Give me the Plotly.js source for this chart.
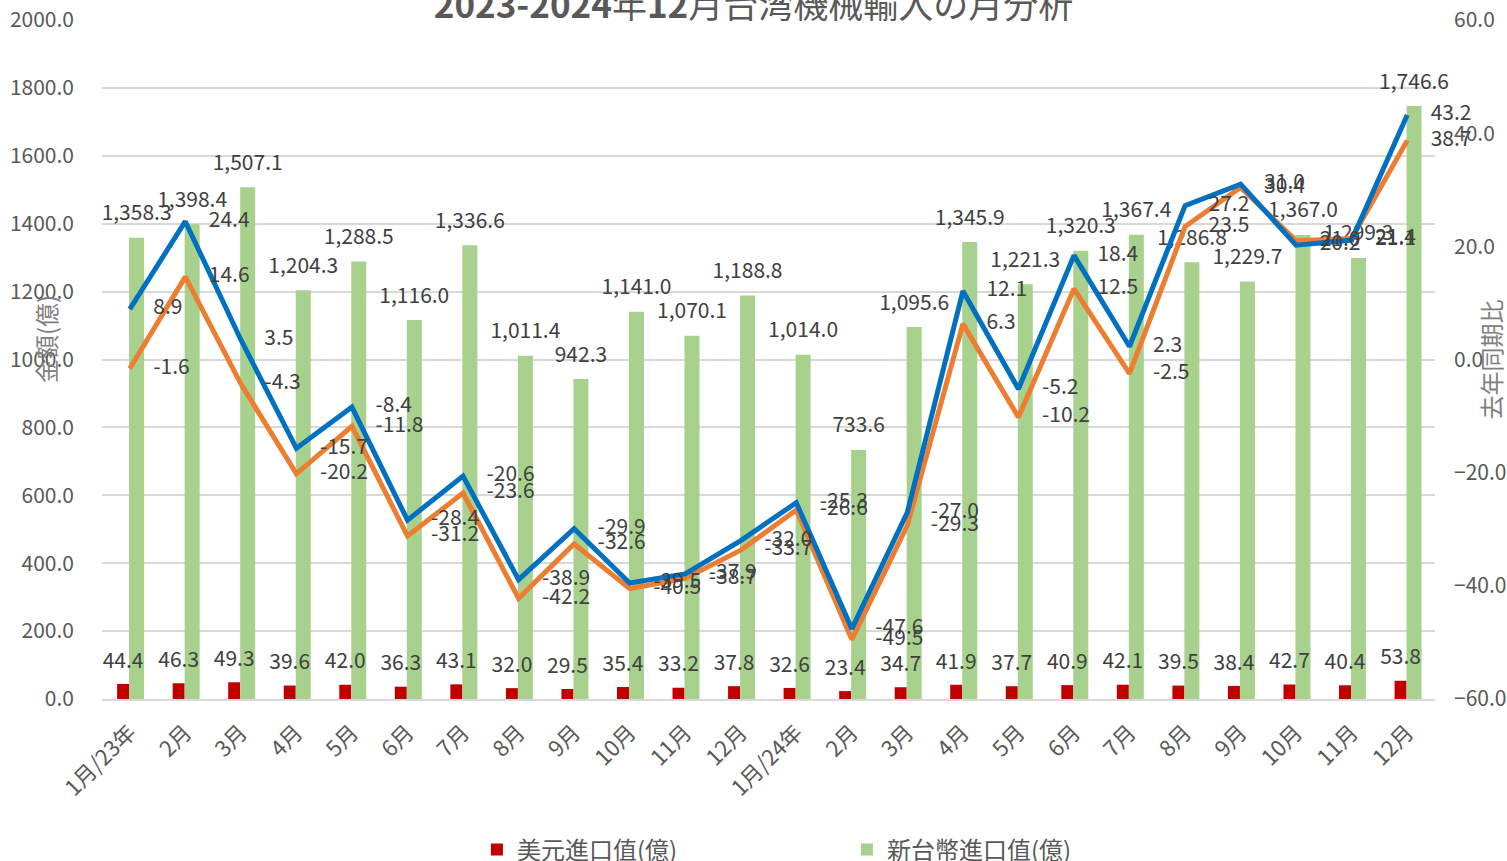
<!DOCTYPE html>
<html>
<head>
<meta charset="utf-8">
<script src="https://cdn.plot.ly/plotly-3.0.1.min.js"></script>
<style>
html,body{margin:0;padding:0;background:#fff;}
#chart{width:1507px;height:861px;}
</style>
</head>
<body>
<div id="chart"></div>
<script>
const months = ["1月/23年","2月","3月","4月","5月","6月","7月","8月","9月","10月","11月","12月",
                "1月/24年","2月","3月","4月","5月","6月","7月","8月","9月","10月","11月","12月"];
const usdImport = [44.4,46.3,49.3,39.6,42.0,36.3,43.1,32.0,29.5,35.4,33.2,37.8,
                   32.6,23.4,34.7,41.9,37.7,40.9,42.1,39.5,38.4,42.7,40.4,53.8];
const ntdImport = [1358.3,1398.4,1507.1,1204.3,1288.5,1116.0,1336.6,1011.4,942.3,1141.0,1070.1,1188.8,
                   1014.0,733.6,1095.6,1345.9,1221.3,1320.3,1367.4,1286.8,1229.7,1367.0,1299.3,1746.6];
const ntdYoY = [8.9,24.4,3.5,-15.7,-8.4,-28.4,-20.6,-38.9,-29.9,-39.5,-37.9,-32.0,
                -25.3,-47.6,-27.0,12.1,-5.2,18.4,2.3,27.2,31.0,20.2,21.1,43.2];
const usdYoY = [-1.6,14.6,-4.3,-20.2,-11.8,-31.2,-23.6,-42.2,-32.6,-40.5,-38.7,-33.7,
                -26.6,-49.5,-29.3,6.3,-10.2,12.5,-2.5,23.5,30.4,21.0,21.4,38.7];

const FONT = "'Noto Sans CJK JP', 'Noto Sans', sans-serif";
const labelFont = {family: FONT, size: 21, color: '#404040'};
const idx = months.map((m, i) => i);
const USD_SHIFT = -0.12, NTD_SHIFT = 0.123;
const clear = 'rgba(0,0,0,0)';

const traces = [
  {
    type: 'bar', name: '美元進口值(億)', x: idx, y: usdImport, legendrank: 1,
    marker: {color: '#C00000'}, width: 0.216, offset: -0.228, hoverinfo: 'y'
  },
  {
    type: 'bar', name: '新台幣進口值(億)', x: idx, y: ntdImport, legendrank: 2,
    marker: {color: '#A9D18E'}, width: 0.27, offset: -0.012, hoverinfo: 'y'
  },
  {
    type: 'scatter', mode: 'lines', name: '美元同期比', x: idx, y: usdYoY, yaxis: 'y2',
    line: {color: '#ED7D31', width: 5}, showlegend: false, cliponaxis: false
  },
  {
    type: 'scatter', mode: 'lines', name: '新台幣同期比', x: idx, y: ntdYoY, yaxis: 'y2',
    line: {color: '#0070C0', width: 5}, showlegend: false, cliponaxis: false
  },
  // data labels
  {
    type: 'scatter', mode: 'markers+text', x: idx.map(i => i + USD_SHIFT), y: usdImport,
    marker: {size: 16, color: clear}, texttemplate: '%{y:.1f}', textposition: 'top center',
    textfont: labelFont, showlegend: false, cliponaxis: false, hoverinfo: 'skip'
  },
  {
    type: 'scatter', mode: 'markers+text', x: idx.map(i => i + NTD_SHIFT), y: ntdImport,
    marker: {size: 18, color: clear}, texttemplate: '%{y:,.1f}', textposition: 'top center',
    textfont: labelFont, showlegend: false, cliponaxis: false, hoverinfo: 'skip'
  },
  {
    type: 'scatter', mode: 'markers+text', x: idx, y: usdYoY, yaxis: 'y2',
    marker: {size: 36, color: clear}, texttemplate: '%{y:.1f}', textposition: 'middle right',
    textfont: labelFont, showlegend: false, cliponaxis: false, hoverinfo: 'skip'
  },
  {
    type: 'scatter', mode: 'markers+text', x: idx, y: ntdYoY, yaxis: 'y2',
    marker: {size: 36, color: clear}, texttemplate: '%{y:.1f}', textposition: 'middle right',
    textfont: labelFont, showlegend: false, cliponaxis: false, hoverinfo: 'skip'
  }
];

const layout = {
  width: 1507, height: 861,
  margin: {l: 102, r: 72, t: 20, b: 162},
  paper_bgcolor: '#ffffff', plot_bgcolor: '#ffffff',
  font: {family: FONT, color: '#595959'},
  showlegend: true,
  title: {
    text: '<b>2023-2024</b>年<b>12</b>月台湾機械輸入の月分析',
    font: {family: FONT, size: 35, color: '#595959'},
    x: 0.5, xref: 'container', xanchor: 'center',
    y: 0.993, yref: 'container', yanchor: 'middle'
  },
  xaxis: {
    type: 'linear', range: [-0.5, 23.5], tickmode: 'array', tickvals: idx, ticktext: months,
    tickangle: -45,
    tickfont: {family: FONT, size: 22, color: '#595959'},
    showgrid: false, zeroline: false,
    showline: true, linecolor: '#d9d9d9', linewidth: 2,
    ticks: '', ticklabelstandoff: 10
  },
  yaxis: {
    range: [0, 2000], dtick: 200, tickformat: '.1f',
    tickfont: {family: FONT, size: 21, color: '#595959'},
    showgrid: true, gridcolor: '#d9d9d9', gridwidth: 2,
    zeroline: false, showline: false, ticks: '', ticklabelstandoff: 27
  },
  yaxis2: {
    range: [-60, 60], dtick: 20, tickformat: '.1f',
    overlaying: 'y', side: 'right',
    tickfont: {family: FONT, size: 21, color: '#595959'},
    showgrid: false, zeroline: false, showline: false, ticks: '', ticklabelstandoff: 18
  },
  legend: {
    orientation: 'h', x: 0.562, xref: 'container', xanchor: 'center',
    y: 0.0128, yref: 'container', yanchor: 'middle',
    font: {family: FONT, size: 24, color: '#595959'}, entrywidth: 325, entrywidthmode: 'pixels',
    traceorder: 'normal'
  },
  annotations: [
    {text: '金額(億)', xref: 'paper', yref: 'paper', x: -0.0428, y: 0.53, textangle: -90,
     showarrow: false, xanchor: 'center', yanchor: 'middle',
     font: {family: FONT, size: 24, color: '#808080'}},
    {text: '去年同期比', xref: 'paper', yref: 'paper', x: 1.0413, y: 0.5, textangle: -90,
     showarrow: false, xanchor: 'center', yanchor: 'middle',
     font: {family: FONT, size: 24, color: '#808080'}}
  ]
};

Plotly.newPlot('chart', traces, layout, {displayModeBar: false, staticPlot: true});
</script>
</body>
</html>
